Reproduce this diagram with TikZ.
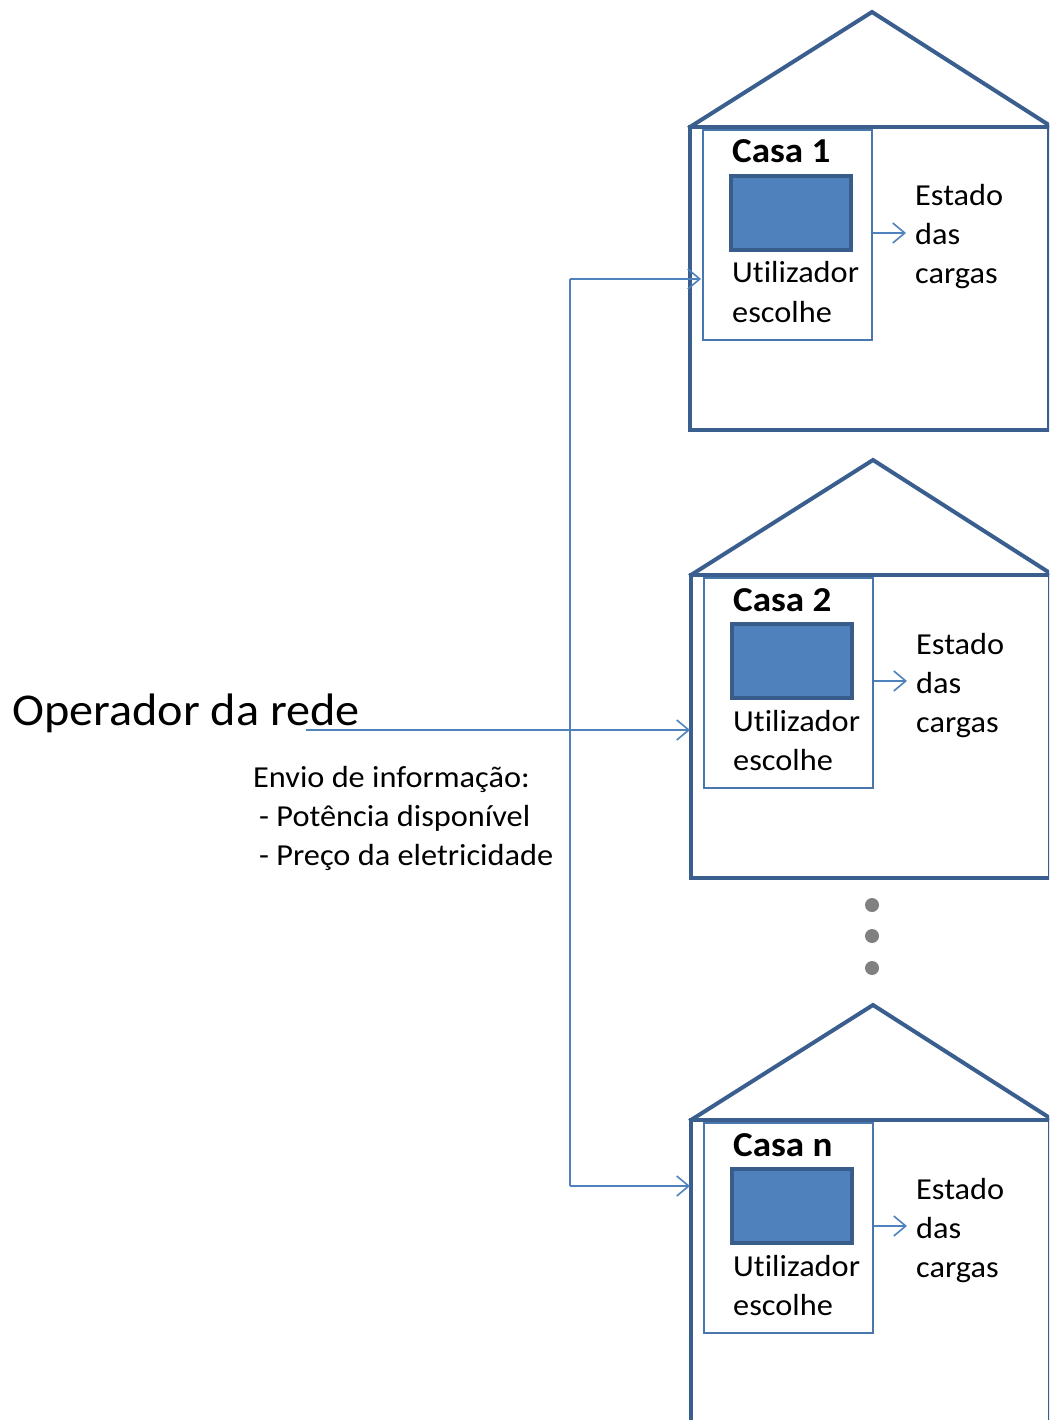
\documentclass[tikz,border=0pt]{standalone}
\usepackage{fontspec}
\setmainfont{Carlito}[FakeStretch=1.06, Ligatures=NoCommon]
\usetikzlibrary{arrows.meta}
\definecolor{housecol}{HTML}{3A5F8F}
\definecolor{panelcol}{HTML}{4A76AE}
\definecolor{linkcol}{HTML}{4F81BD}
\definecolor{screencol}{HTML}{4F81BD}
\definecolor{screenedge}{HTML}{385D8A}
\definecolor{dotcol}{HTML}{808080}

\begin{document}
\begin{tikzpicture}[x=1pt,y=-1pt,
  wall/.style={draw=housecol, line width=4pt, line join=miter, line cap=rect},
  panel/.style={draw=panelcol, line width=2.2pt, rectangle, inner sep=0pt,
    minimum width=169pt, minimum height=210pt, anchor=north west},
  screen/.style={draw=screenedge, fill=screencol, line width=4pt, rectangle,
    inner sep=0pt, minimum width=120pt, minimum height=74pt, anchor=north west},
  link/.style={draw=linkcol, line width=1.6pt},
  linkarrow/.style={link, -{Straight Barb[length=12pt,width=20pt,line width=1.6pt]}},
  txt/.style={inner sep=0pt, anchor=base west, font=\fontsize{30.5}{39}\selectfont},
  title/.style={inner sep=0pt, anchor=base west, font=\fontsize{35}{40}\selectfont\bfseries},
  dot/.style={fill=dotcol, draw=none, circle, inner sep=0pt, minimum size=14pt}]

\useasboundingbox (0,0) rectangle (1049,1420);
\clip (0,0) rectangle (1049,1420);

% three houses: index / vertical offset / horizontal offset / label / bottom of body
\foreach \i/\dy/\dx/\lab/\bot in {1/0/0/1/430, 2/448/1/2/878, n/993/1/n/1460}{
  \begin{scope}[shift={(\dx,\dy)}]
    % roof and body
    \draw[wall] (690,127) -- (872,12) -- (1052,127);
    \draw[wall] (690,127) -- (1052,127);
    \draw[wall] (690,127) -- (690,\bot-\dy) -- (1049,\bot-\dy) -- (1049,127);
    % user panel
    \node[panel] (box\i) at (702,129) {};
    \node[title] (casa\i) at (732,163) {Casa \lab};
    \node[screen] (scr\i) at (729,174) {};
    \node[txt] (util\i) at (732,283) {Utilizador};
    \node[txt] (esc\i) at (732,322) {escolhe};
    % load state
    \node[txt] (est\i) at (915,206) {Estado};
    \node[txt] (das\i) at (915,245) {das};
    \node[txt] (carg\i) at (915,284) {cargas};
    \coordinate (tip\i) at (906,233);
    \draw[linkarrow] (box\i.east |- tip\i) -- (tip\i);
  \end{scope}
}

% ellipsis between houses
\node[dot] (d1) at (872,905) {};
\node[dot] (d2) at (872,936) {};
\node[dot] (d3) at (872,968) {};

% grid operator
\node[inner sep=0pt, anchor=base west, font=\fontsize{45.5}{50}\selectfont] (op) at (12,725) {Operador da rede};
\node[txt] (env) at (253,787) {Envio de informação:};
\node[txt] (pot) at (259,826) {- Potência disponível};
\node[txt] (pre) at (259,865) {- Preço da eletricidade};

% distribution bus
\coordinate (opfoot) at (306,730);
\coordinate (busTop) at (570,279);
\coordinate (busBot) at (570,1186);
\coordinate (wall2) at (690,730);
\coordinate (walln) at (690,1186);
\draw[link] (busTop) -- (busBot);
\draw[linkarrow] (busTop) -- ([xshift=-1pt]box1.west |- busTop);
\draw[linkarrow] (opfoot) -- (wall2);
\draw[linkarrow] (busBot) -- (walln);
\end{tikzpicture}
\end{document}
